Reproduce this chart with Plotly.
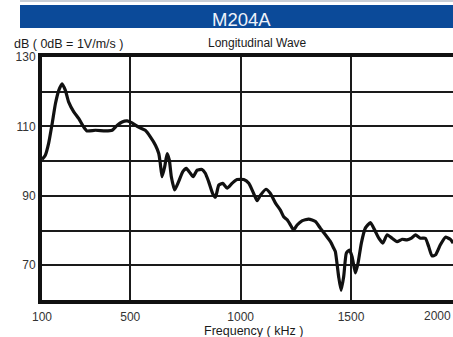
import plotly.graph_objects as go

# Frequency response, M204A sensor (longitudinal wave)
freq_khz = [100, 115, 130, 146, 161, 176, 191, 206, 221, 244, 266, 289, 304, 342, 387,
            418, 440, 463, 486, 508, 538, 568, 591, 614, 629, 636, 644, 656, 667, 677,
            686, 701, 719, 738, 754, 772, 785, 803, 825, 840, 855, 873, 886, 901, 919,
            939, 961, 984, 1014, 1037, 1059, 1075, 1090, 1115, 1135, 1158, 1180, 1195,
            1211, 1226, 1240, 1256, 1278, 1308, 1339, 1361, 1384, 1407, 1422, 1429,
            1444, 1455, 1467, 1479, 1493, 1505, 1520, 1532, 1547, 1565, 1588, 1607,
            1626, 1644, 1664, 1686, 1709, 1732, 1754, 1774, 1792, 1815, 1837, 1852,
            1867, 1883, 1905, 1928, 1950, 1963]
response_db = [100.5, 101.7, 105.1, 110.8, 116.6, 120.4, 122.3, 120.4, 117.0, 114.2,
               112.3, 109.8, 108.7, 108.9, 108.7, 108.9, 110.3, 111.3, 111.6, 111.0,
               109.8, 108.9, 107.0, 104.6, 102.2, 99.3, 95.5, 98.4, 102.2, 100.3,
               95.5, 91.7, 94.1, 97.0, 97.9, 96.5, 95.5, 97.4, 97.6, 96.5, 94.1,
               90.7, 89.6, 93.1, 93.6, 92.2, 93.6, 94.7, 94.7, 93.6, 90.7, 88.6,
               90.2, 91.9, 90.7, 87.9, 85.9, 84.0, 83.1, 81.6, 80.2, 81.6, 82.8,
               83.3, 82.6, 80.7, 78.8, 76.8, 74.9, 74.0, 66.8, 62.8, 66.8, 73.5,
               74.4, 72.5, 67.8, 70.6, 76.4, 80.7, 82.3, 80.2, 77.8, 76.4, 78.8,
               77.8, 76.8, 77.5, 77.3, 77.8, 78.8, 77.8, 77.8, 75.4, 72.7, 73.0,
               75.9, 78.1, 77.5, 76.4]

x_ticks = [100, 500, 1000, 1500]
y_ticks = [60, 70, 80, 90, 100, 110, 120, 130]
y_tick_text = ["", "70", "", "90", "", "110", "", "130"]

FONT = "Liberation Sans, Arial, sans-serif"
W, H = 453, 337
L, R, T, B = 42, 0, 57, 37
PW, PH = W - L - R, H - T - B


def px(x):
    return (x - L) / PW


def py(y):
    return (H - B - y) / PH


fig = go.Figure()
fig.add_trace(go.Scatter(
    x=freq_khz, y=response_db, mode="lines",
    line=dict(color="#111111", width=3.2, shape="spline", smoothing=0.5),
    hoverinfo="skip", showlegend=False,
))

fig.update_layout(
    width=W, height=H,
    margin=dict(l=L, r=R, t=T, b=B),
    paper_bgcolor="white", plot_bgcolor="white",
    font=dict(family=FONT, size=12, color="#333333"),
    xaxis=dict(
        range=[100, 100 + PW / 0.2207], tickvals=x_ticks,
        showgrid=True, gridcolor="#1a1a1a", gridwidth=2,
        showline=True, linecolor="#111111", linewidth=4, mirror=True,
        ticks="outside", ticklen=0, ticklabelstandoff=3,
        zeroline=False, fixedrange=True,
    ),
    yaxis=dict(
        range=[60, 130], tickvals=y_ticks, ticktext=y_tick_text,
        showgrid=True, gridcolor="#1a1a1a", gridwidth=2,
        showline=True, linecolor="#111111", linewidth=4, mirror=False,
        ticks="outside", ticklen=0, ticklabelstandoff=0,
        zeroline=False, fixedrange=True,
    ),
    shapes=[
        dict(type="line", xref="paper", yref="paper", x0=px(20), x1=px(W), y0=py(1), y1=py(1),
             line=dict(color="#c9ced6", width=2)),
        dict(type="rect", xref="paper", yref="paper", x0=px(20), x1=px(W + 2), y0=py(28), y1=py(5),
             fillcolor="#0b4a99", line=dict(width=0), layer="above"),
    ],
    annotations=[
        dict(text="M204A", xref="paper", yref="paper", x=px(241), y=py(19), showarrow=False,
             xanchor="center", yanchor="middle", font=dict(family=FONT, size=18.5, color="#eef2fa")),
        dict(text="dB ( 0dB = 1V/m/s )", xref="paper", yref="paper", x=px(12), y=py(44),
             showarrow=False, xanchor="left", yanchor="middle",
             font=dict(family=FONT, size=12.5, color="#1a1a1a")),
        dict(text="Longitudinal Wave", xref="paper", yref="paper", x=px(257), y=py(43),
             showarrow=False, xanchor="center", yanchor="middle",
             font=dict(family=FONT, size=12, color="#1a1a1a")),
        dict(text="2000", xref="paper", yref="paper", x=px(437), y=py(316),
             showarrow=False, xanchor="center", yanchor="middle",
             font=dict(family=FONT, size=12, color="#333333")),
        dict(text="Frequency ( kHz )", xref="paper", yref="paper", x=px(253), y=py(331),
             showarrow=False, xanchor="center", yanchor="middle",
             font=dict(family=FONT, size=12.5, color="#1a1a1a")),
    ],
)

fig.write_html("out.html", config={"displayModeBar": False})
